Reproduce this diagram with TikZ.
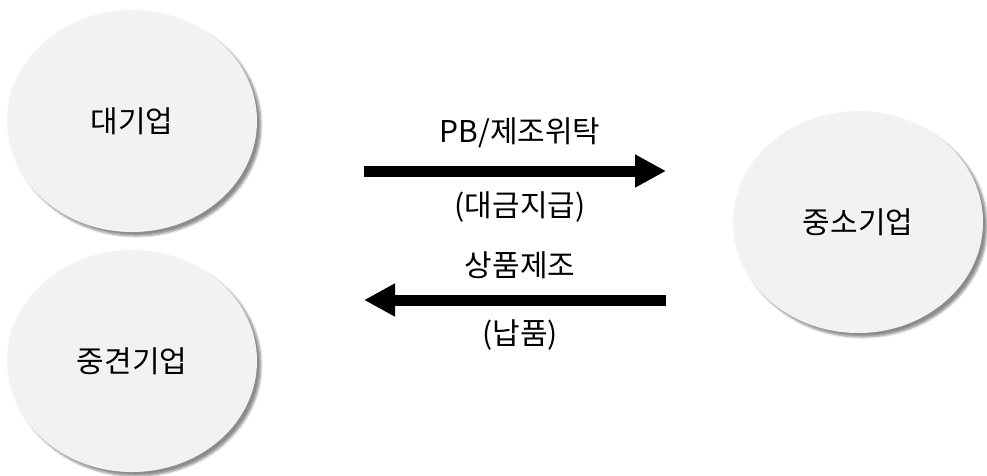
\documentclass[tikz,border=0pt]{standalone}
\usepackage{fontspec}
\setmainfont{Noto Sans CJK KR}
\usepackage{tikz}
\usetikzlibrary{arrows.meta, shapes.geometric, shadows.blur}
\tikzstyle{firm}=[ellipse, fill = gray!10, minimum width = 250pt, minimum height = 222pt, inner sep = 0pt, font = \fontsize{30}{34}\selectfont, blur shadow = {shadow xshift = 4pt, shadow yshift = -4pt, shadow blur steps = 6, shadow opacity = 45}]
\tikzstyle{flow}=[line width = 11pt, -{Triangle[length = 31pt, width = 31pt]}]
\tikzstyle{lab}=[font = \fontsize{30}{34}\selectfont, inner sep = 0pt, xshift = 5pt]

\begin{document}
\begin{tikzpicture}[x = 1pt, y = -1pt]
  \useasboundingbox (0,0) rectangle (987,475);
  \node[firm] (big) at (132,121) {대기업};
  \node[firm] (mid) at (132,361) {중견기업};
  \node[firm] (small) at (858,222) {중소기업};
  % arrow ends
  \coordinate (p1) at (364,171);
  \coordinate (p2) at (666,171);
  \coordinate (q1) at (666,300);
  \coordinate (q2) at (364,300);
  \draw[flow] (p1) -- node[lab, yshift = 38pt] {PB/제조위탁} node[lab, yshift = -36pt] {(대금지급)} (p2);
  \draw[flow] (q1) -- node[lab, yshift = 35pt] {상품제조} node[lab, yshift = -35pt] {(납품)} (q2);
\end{tikzpicture}
\end{document}
